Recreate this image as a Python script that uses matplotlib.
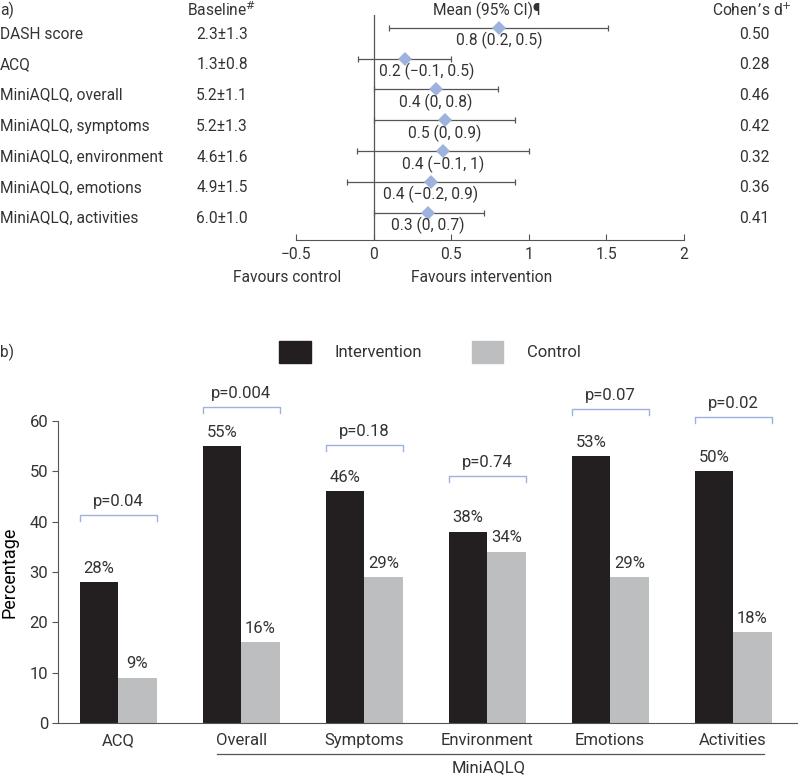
import numpy as np
import matplotlib
matplotlib.use("Agg")
import matplotlib.pyplot as plt
import matplotlib.transforms as mtransforms
from matplotlib.patches import Patch

plt.rcParams['font.family'] = ['Roboto', 'DejaVu Sans']
plt.rcParams['font.size'] = 11.2
plt.rcParams['text.color'] = '#333333'
plt.rcParams['axes.edgecolor'] = '#555555'
plt.rcParams['xtick.color'] = '#555555'
plt.rcParams['ytick.color'] = '#555555'
plt.rcParams['xtick.labelcolor'] = '#333333'
plt.rcParams['ytick.labelcolor'] = '#333333'

# panel a) data
outcomes = ['DASH score', 'ACQ', 'MiniAQLQ, overall', 'MiniAQLQ, symptoms',
            'MiniAQLQ, environment', 'MiniAQLQ, emotions', 'MiniAQLQ, activities']
baseline = ['2.3\u00b11.3', '1.3\u00b10.8', '5.2\u00b11.1', '5.2\u00b11.3',
            '4.6\u00b11.6', '4.9\u00b11.5', '6.0\u00b11.0']
means = [0.81, 0.20, 0.40, 0.46, 0.45, 0.37, 0.35]
ci_lo = [0.10, -0.10, 0.0, 0.0, -0.11, -0.17, 0.0]
ci_hi = [1.51, 0.50, 0.80, 0.91, 1.00, 0.91, 0.71]
ci_text = ['0.8 (0.2, 0.5)', '0.2 (\u22120.1, 0.5)', '0.4 (0, 0.8)', '0.5 (0, 0.9)',
           '0.4 (\u22120.1, 1)', '0.4 (\u22120.2, 0.9)', '0.3 (0, 0.7)']
cohens_d = ['0.50', '0.28', '0.46', '0.42', '0.32', '0.36', '0.41']

# panel b) data
categories = ['ACQ', 'Overall', 'Symptoms', 'Environment', 'Emotions', 'Activities']
intervention = [28, 55, 46, 38, 53, 50]
control = [9, 16, 29, 34, 29, 18]
p_values = ['p=0.04', 'p=0.004', 'p=0.18', 'p=0.74', 'p=0.07', 'p=0.02']
bracket_y = [41.4, 62.8, 55.3, 49.1, 62.4, 60.8]

dark = '#231f20'
grey = '#bcbec0'
blue = '#9db3dd'
line_c = '#555555'

fig = plt.figure(figsize=(8, 7.75), dpi=100)

# ---------------- panel a ----------------
ax1 = fig.add_axes([296/800, 1 - 240/775, 388/800, 225/775])
rows = np.arange(len(outcomes))
ax1.set_xlim(-0.5, 2)
ax1.set_ylim(6.69, -0.62)
for s in ['top', 'right', 'left']:
    ax1.spines[s].set_visible(False)
ax1.set_yticks([])
ax1.set_xticks([-0.5, 0, 0.5, 1, 1.5, 2])
ax1.set_xticklabels(['\u22120.5', '0', '0.5', '1', '1.5', '2'])
ax1.tick_params(axis='x', direction='in', length=4, width=0.8, pad=5)
ax1.axvline(0, color=line_c, lw=0.9)

m = np.array(means)
err = [m - np.array(ci_lo), np.array(ci_hi) - m]
ax1.errorbar(m, rows - 0.2, xerr=err, fmt='none', ecolor=line_c, elinewidth=0.9,
             capsize=2, capthick=0.9)
ax1.plot(m, rows - 0.2, 'D', color=blue, ms=7, mew=0, zorder=3)
for i in rows:
    ax1.text(max(means[i], 0.34), i + 0.22, ci_text[i], ha='center', va='center')

tr = mtransforms.blended_transform_factory(fig.transFigure, ax1.transData)
for i in rows:
    ax1.text(0.0, i, outcomes[i], ha='left', va='center', transform=tr)
    ax1.text(222/800, i, baseline[i], ha='center', va='center', transform=tr)
    ax1.text(754/800, i, cohens_d[i], ha='center', va='center', transform=tr)

hy = 1 - 10/775
fig.text(0.0, hy, 'a)', ha='left', va='center')
fig.text(222/800, hy, 'Baseline$^{\\#}$', ha='center', va='center')
fig.text(487/800, hy, 'Mean (95% CI)\u00b6', ha='center', va='center')
fig.text(752/800, hy, 'Cohen\u2019s d$^{+}$', ha='center', va='center')
fig.text(287/800, 1 - 278/775, 'Favours control', ha='center', va='center')
fig.text(482/800, 1 - 278/775, 'Favours intervention', ha='center', va='center')

# ---------------- panel b ----------------
ax2 = fig.add_axes([58/800, 1 - 723/775, 739/800, 302/775])
x = np.arange(len(categories))
w = 0.313
ax2.bar(x - w/2, intervention, w, color=dark, label='Intervention')
ax2.bar(x + w/2, control, w, color=grey, label='Control')
ax2.set_xlim(-0.49, 5.52)
ax2.set_ylim(0, 60)
ax2.spines['top'].set_visible(False)
ax2.spines['right'].set_visible(False)
ax2.set_yticks(range(0, 61, 10))
ax2.set_xticks(x)
ax2.set_xticklabels(categories, fontsize=12)
ax2.tick_params(axis='x', length=0, pad=7)
ax2.tick_params(axis='y', length=4, width=0.8, pad=3, labelsize=12)
ax2.set_ylabel('Percentage', fontsize=13, labelpad=8)

for i in x:
    ax2.annotate(f'{intervention[i]}%', (x[i] - w/2, intervention[i]), xytext=(0, 10),
                 textcoords='offset points', ha='center', va='center', fontsize=12)
    ax2.annotate(f'{control[i]}%', (x[i] + w/2, control[i]), xytext=(0, 10),
                 textcoords='offset points', ha='center', va='center', fontsize=12)
    yb = bracket_y[i]
    ax2.plot([x[i] - w, x[i] - w, x[i] + w, x[i] + w], [yb - 1.2, yb, yb, yb - 1.2],
             color=blue, lw=1.0, clip_on=False)
    ax2.annotate(p_values[i], (x[i], yb), xytext=(0, 9.5), textcoords='offset points',
                 ha='center', va='center', fontsize=12, annotation_clip=False)

# MiniAQLQ group line
tb = mtransforms.blended_transform_factory(ax2.transData, fig.transFigure)
ax2.plot([1 - 0.2, 5 + 0.25], [1 - 754/775] * 2, color=line_c, lw=0.9,
         transform=tb, clip_on=False)
fig.text(489/800, 1 - 768/775, 'MiniAQLQ', ha='center', va='center', fontsize=12)

fig.text(0.0, 1 - 352/775, 'b)', ha='left', va='center')
fig.legend(handles=[Patch(color=dark, label='Intervention'), Patch(color=grey, label='Control')],
           loc='center', bbox_to_anchor=(430/800, 1 - 352/775), ncol=2, frameon=False,
           fontsize=12, handlelength=1.9, handleheight=1.6, columnspacing=3.0,
           handletextpad=1.4)

fig.savefig('out.png', dpi=100)
